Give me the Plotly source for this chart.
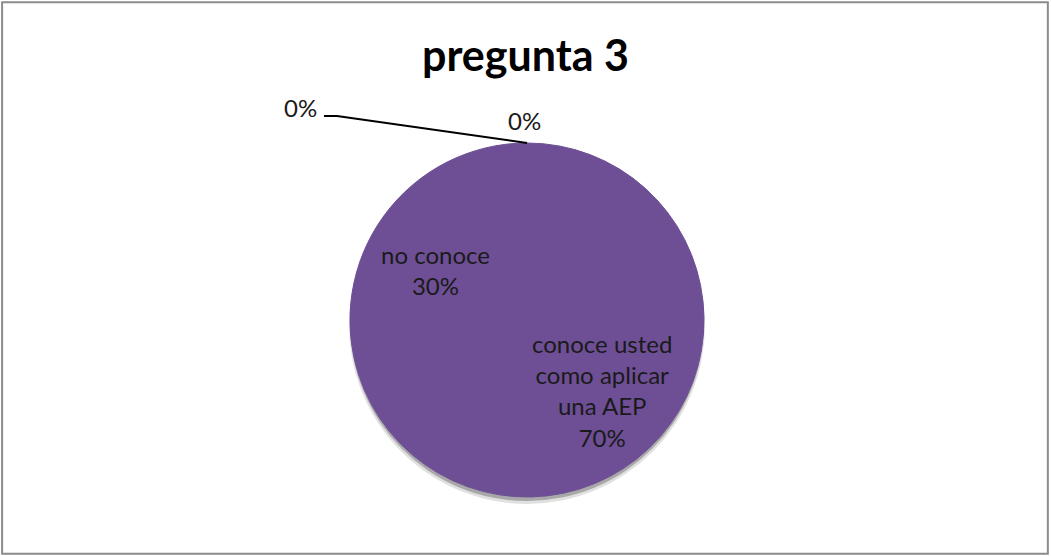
import math
import plotly.graph_objects as go

labels = ["conoce usted<br>como aplicar<br>una AEP", "no conoce", "", " "]
values = [70, 30, 0, 0]
pct_text = ["70%", "30%", "0%", "0%"]
title_text = "pregunta 3"

W, H = 1051, 556
purple = "#6E4F95"
FONT = "Lato, Open Sans, sans-serif"
TXT = "#1a1a1a"

# pie placement (pixels)
px0, px1, py0, py1 = 350, 704, 143, 497
cx = (px0 + px1) / 2
r = min(px1 - px0, py1 - py0) / 2
cy = (py0 + py1) / 2
top_y = cy - r
# small shift of the inside labels, matching the reference layout
lab_dx, lab_dy = -8, 10

def X(p):
    return p / W

def Y(p):
    return 1 - p / H

fig = go.Figure()
fig.add_trace(go.Pie(
    labels=labels,
    values=values,
    text=pct_text,
    sort=False,
    direction="clockwise",
    rotation=0,
    marker=dict(colors=[purple] * 4, line=dict(width=1, color=purple)),
    textinfo="none",
    showlegend=False,
    hoverinfo="label+percent",
    domain=dict(x=[X(px0), X(px1)], y=[Y(py1), Y(py0)]),
))

annotations = []
# inside labels for the non-zero slices, placed at each slice's mid angle
total = sum(values)
start = 0.0
for lab, v, t in zip(labels, values, pct_text):
    span = 360.0 * v / total
    if v > 0:
        mid = math.radians(start + span / 2)
        lx = cx + 0.58 * r * math.sin(mid) + lab_dx
        ly = cy - 0.58 * r * math.cos(mid) + lab_dy
        annotations.append(dict(
            text=lab + "<br>" + t, xref="paper", yref="paper",
            x=X(lx), y=Y(ly), xanchor="center", yanchor="middle", align="center",
            showarrow=False, font=dict(family=FONT, size=24, color=TXT)))
    start += span

# labels for the two 0% slices (they sit at the top of the pie)
zero_idx = [i for i, v in enumerate(values) if v == 0]
annotations += [
    dict(text=pct_text[zero_idx[0]], xref="paper", yref="paper",
         x=X(cx - 3), y=Y(top_y - 22), xanchor="center", yanchor="middle",
         showarrow=False, font=dict(family=FONT, size=24, color=TXT)),
    dict(text=pct_text[zero_idx[1]], xref="paper", yref="paper",
         x=X(319), y=Y(107), xanchor="right", yanchor="middle",
         showarrow=False, font=dict(family=FONT, size=24, color=TXT)),
]

leader = "M {},{} L {},{} L {},{}".format(
    X(324), Y(116), X(337), Y(116), X(cx), Y(top_y))

shapes = [
    # soft shadow under the pie
    dict(type="circle", xref="paper", yref="paper", layer="below",
         x0=X(cx - r - 1), x1=X(cx + r + 1), y0=Y(cy + r + 7), y1=Y(cy - r + 3),
         fillcolor="rgba(0,0,0,0.12)", line=dict(width=0)),
    dict(type="circle", xref="paper", yref="paper", layer="below",
         x0=X(cx - r), x1=X(cx + r), y0=Y(cy + r + 4), y1=Y(cy - r + 2),
         fillcolor="rgba(0,0,0,0.25)", line=dict(width=0)),
    dict(type="path", xref="paper", yref="paper", path=leader,
         line=dict(color="black", width=2)),
    dict(type="rect", xref="paper", yref="paper", x0=0.002, y0=0.004, x1=0.997, y1=0.996,
         line=dict(color="#8c8c8c", width=2)),
]

fig.update_layout(
    width=W, height=H,
    margin=dict(l=0, r=0, t=0, b=0),
    paper_bgcolor="white",
    plot_bgcolor="white",
    title=dict(text="<b>" + title_text + "</b>", x=0.5, xanchor="center",
               y=1 - 56 / H, yanchor="middle",
               font=dict(family=FONT, size=43, color="black")),
    annotations=annotations,
    shapes=shapes,
)

fig.write_html("out.html")
